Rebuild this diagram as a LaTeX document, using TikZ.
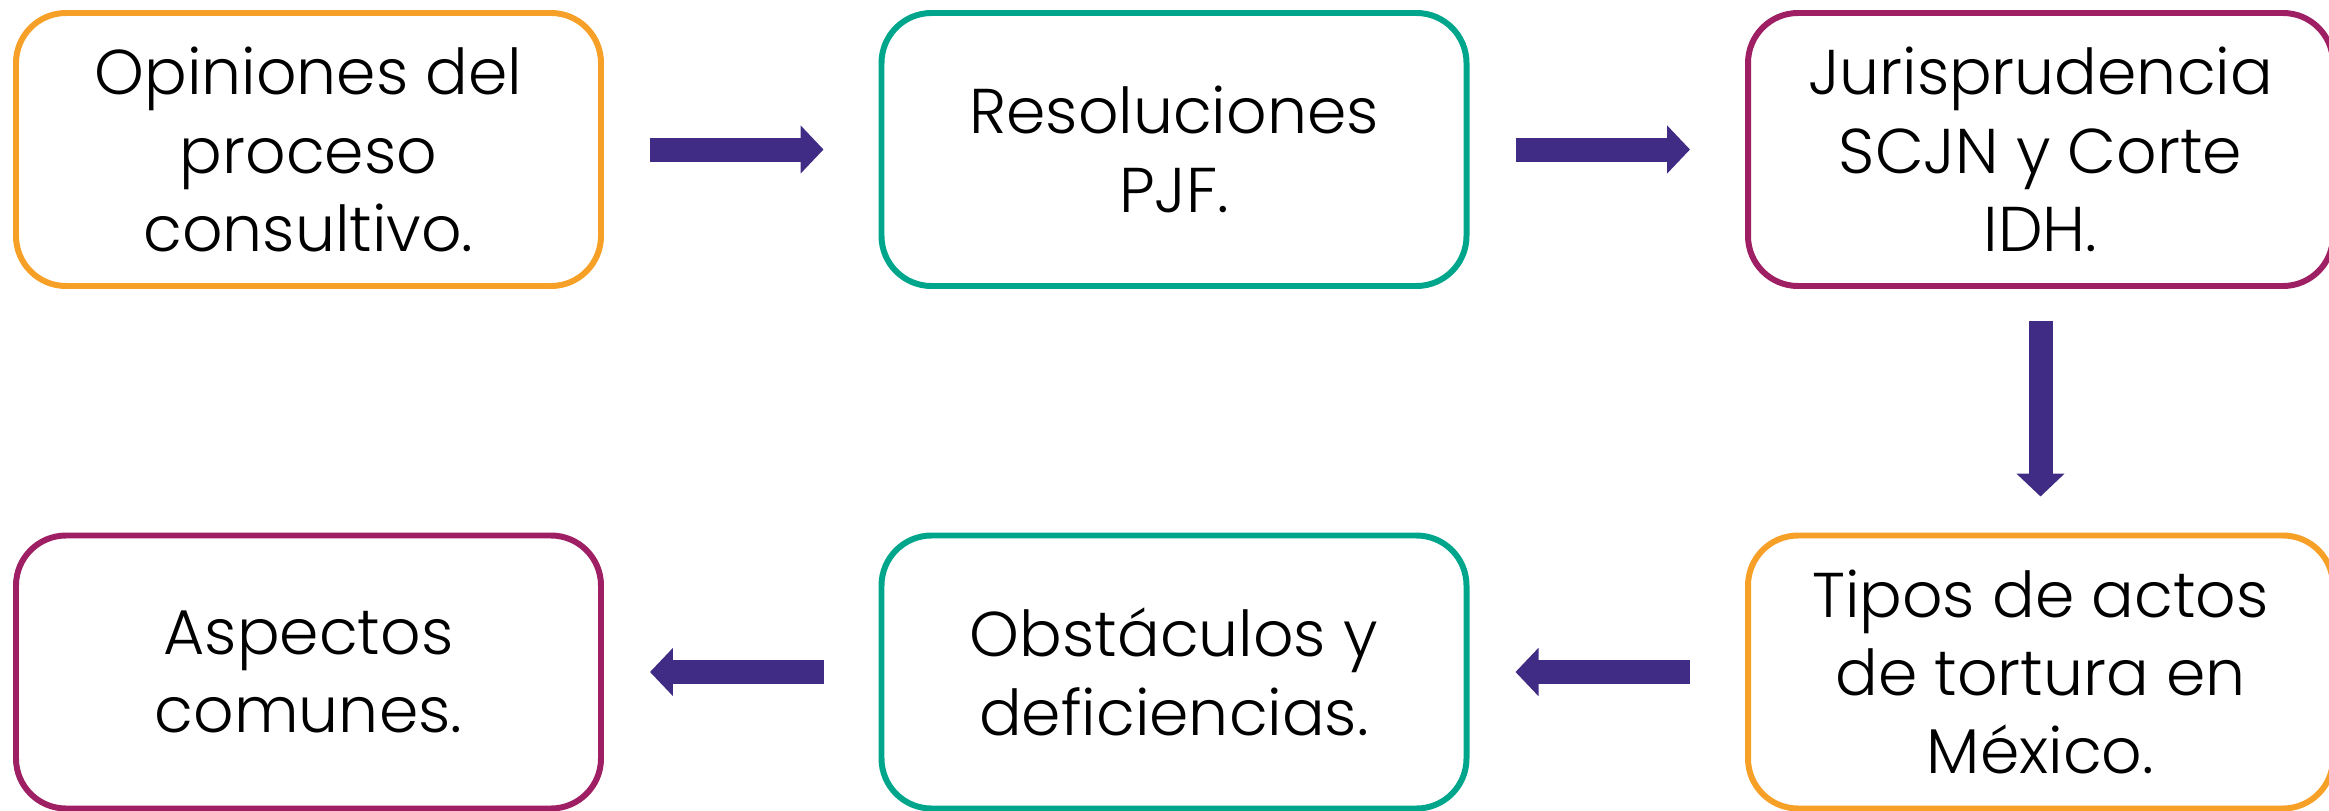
\documentclass[tikz,border=0pt]{standalone}
\usepackage{fontspec}
\setmainfont{Poppins}[UprightFont=* Light]
\usetikzlibrary{arrows.meta}
\definecolor{naranja}{RGB}{247,160,40}
\definecolor{verde}{RGB}{0,166,140}
\definecolor{vino}{RGB}{158,31,99}
\definecolor{morado}{RGB}{65,44,133}

\begin{document}
\begin{tikzpicture}
	[every node/.style={draw,rounded corners=0.5cm,line width=1.7pt,inner sep=2pt,
		minimum width=5.85cm,minimum height=2.73cm,align=center,
		font=\fontsize{18}{22.3}\selectfont},
	flecha/.style={draw=morado,line width=0.24cm,-{Triangle[width=0.47cm,length=0.23cm]}},
	derecha/.style={flecha,shorten <=0.46cm,shorten >=0.55cm},
	izquierda/.style={flecha,shorten <=0.55cm,shorten >=0.46cm}]
	\useasboundingbox (0,0) rectangle (23.29,-8.11);
	\node (opiniones) [draw=naranja] at (3.085,-1.495) {Opiniones del\\proceso\\consultivo.};
	\node (resoluciones) [draw=verde] at (11.74,-1.495) {Resoluciones\\PJF.};
	\node (juris) [draw=vino] at (20.405,-1.495) {Jurisprudencia\\SCJN y Corte\\IDH.};
	\node (tipos) [draw=naranja] at (20.405,-6.72) {Tipos de actos\\de tortura en\\México.};
	\node (obstaculos) [draw=verde] at (11.74,-6.72) {Obstáculos y\\deficiencias.};
	\node (aspectos) [draw=vino] at (3.085,-6.72) {Aspectos\\comunes.};
	\draw [derecha] (opiniones) -- (resoluciones);
	\draw [derecha] (resoluciones) -- (juris);
	\draw [flecha,shorten <=0.32cm,shorten >=0.36cm] (juris) -- (tipos);
	\draw [izquierda] (tipos) -- (obstaculos);
	\draw [izquierda] (obstaculos) -- (aspectos);
\end{tikzpicture}
\end{document}
